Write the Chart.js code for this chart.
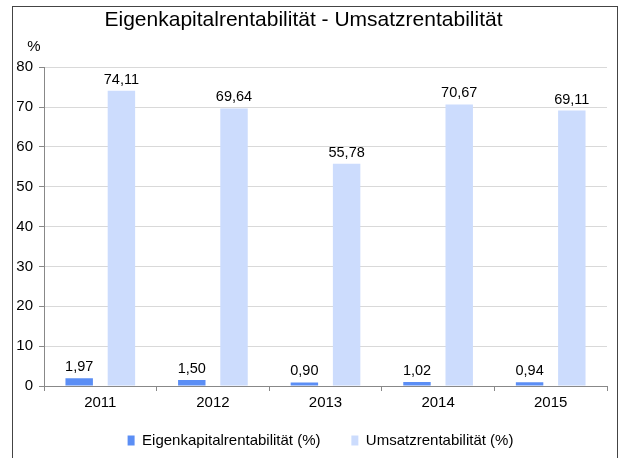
<!DOCTYPE html>
<html>
<head>
<meta charset="utf-8">
<script src="https://cdn.jsdelivr.net/npm/chart.js@4"></script>
<style>
  html, body { margin: 0; padding: 0; background: #fff; }
  #wrap { width: 620px; height: 458px; }
</style>
</head>
<body>
<div id="wrap"><canvas id="myChart"></canvas></div>
<script>
const years = ["2011", "2012", "2013", "2014", "2015"];
const eigenkapital = [1.97, 1.50, 0.90, 1.02, 0.94];
const umsatz = [74.11, 69.64, 55.78, 70.67, 69.11];
const yTicks = [0, 10, 20, 30, 40, 50, 60, 70, 80];

const FONT = "'Liberation Sans', Arial, sans-serif";

// draws the frame, the "%" unit and the value labels above the bars
const extras = {
    id: 'extras',
    afterLayout(chart) {
        // legend sits a little right of the canvas centre in the original
        chart.legend.left += 17;
        chart.legend.right += 17;
    },
    afterDraw(chart) {
        const ctx = chart.ctx;
        ctx.save();
        ctx.strokeStyle = '#444';
        ctx.lineWidth = 1;
        ctx.strokeRect(12.5, 6.5, 605, 470);

        ctx.fillStyle = '#000';
        ctx.font = '15px ' + FONT;
        ctx.textAlign = 'center';
        ctx.textBaseline = 'alphabetic';
        ctx.fillText('%', 34, 51);

        ctx.font = '14.5px ' + FONT;
        chart.data.datasets.forEach((ds, i) => {
            const meta = chart.getDatasetMeta(i);
            meta.data.forEach((bar, j) => {
                const txt = ds.data[j].toFixed(2).replace('.', ',');
                ctx.fillText(txt, bar.x, bar.y - 7);
            });
        });
        ctx.restore();
    }
};

const ctx = document.getElementById('myChart').getContext('2d');
new Chart(ctx, {
    type: 'bar',
    data: {
        labels: years,
        datasets: [{
            label: 'Eigenkapitalrentabilität (%)',
            data: eigenkapital,
            backgroundColor: '#5b8ef5',
            categoryPercentage: 0.75,
            barPercentage: 0.65
        }, {
            label: 'Umsatzrentabilität (%)',
            data: umsatz,
            backgroundColor: '#ccdcfd',
            categoryPercentage: 0.75,
            barPercentage: 0.65
        }]
    },
    options: {
        responsive: true,
        maintainAspectRatio: false,
        animation: false,
        layout: { padding: { left: 0, right: 13, top: 0, bottom: 0 } },
        plugins: {
            title: {
                display: true,
                text: 'Eigenkapitalrentabilität - Umsatzrentabilität',
                color: '#000',
                font: { family: FONT, size: 21, weight: 'normal' },
                padding: { top: 8, bottom: 34 }
            },
            legend: {
                position: 'bottom',
                labels: {
                    color: '#000',
                    font: { family: FONT, size: 15 },
                    boxWidth: 7,
                    boxHeight: 10,
                    padding: 10,
                    // wider gap between the two entries
                    generateLabels: chart => {
                        const items = Chart.defaults.plugins.legend.labels.generateLabels(chart);
                        items[0].text += '\u00a0\u00a0\u00a0\u00a0\u00a0';
                        return items;
                    }
                }
            },
            tooltip: { enabled: false }
        },
        scales: {
            x: {
                grid: { drawOnChartArea: false, drawTicks: true, tickLength: 5, color: '#888' },
                border: { color: '#888' },
                ticks: { color: '#000', font: { family: FONT, size: 15 }, padding: 3 },
                afterFit: scale => { scale.height = 37; }
            },
            y: {
                min: 0,
                max: 80,
                afterBuildTicks: scale => { scale.ticks = yTicks.map(v => ({ value: v })); },
                grid: { color: '#d9d9d9', tickLength: 5, tickColor: '#888' },
                border: { color: '#888' },
                ticks: { color: '#000', font: { family: FONT, size: 15 }, padding: 6 },
                afterFit: scale => { scale.width = 44; }
            }
        }
    },
    plugins: [extras]
});
</script>
</body>
</html>
